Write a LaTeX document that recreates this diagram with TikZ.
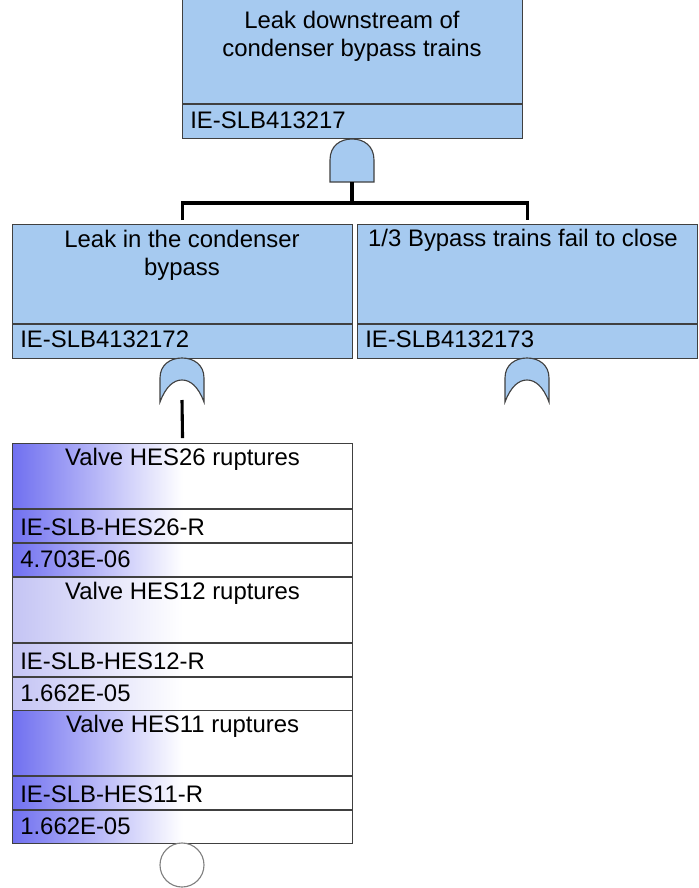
\documentclass[tikz,border=0pt]{standalone}
\usepackage{fontspec}
\setmainfont{Liberation Sans}
\usetikzlibrary{calc,positioning}

\definecolor{evblue}{RGB}{166,202,240}
\definecolor{evline}{RGB}{64,64,64}
\definecolor{basedeep}{RGB}{112,112,240}
\definecolor{basepale}{RGB}{196,196,244}

\tikzset{
  evbox/.style={draw=evline,line width=0.8pt,fill=evblue,anchor=north west,minimum width=8.5cm,inner sep=0pt},
  basebox/.style={draw=evline,line width=0.8pt,anchor=north west,minimum width=8.5cm,minimum height=3.333cm,inner sep=0pt},
  conn/.style={line width=2.2pt},
  lbl/.style={inner sep=0pt,font=\fontsize{17pt}{20pt}\selectfont},
  andgate/.pic={
    \draw[evline,line width=0.8pt,fill=evblue] (-22,43) -- (-22,21) .. controls (-22,7) and (-12,0) .. (0,0)
      .. controls (12,0) and (22,7) .. (22,21) -- (22,43) -- cycle;
    \coordinate (-out) at (0,43);
  },
  orgate/.pic={
    \draw[evline,line width=0.8pt,fill=evblue] (-22,44) -- (-22,20) .. controls (-22,7) and (-12,0) .. (0,0)
      .. controls (12,0) and (22,7) .. (22,20) -- (22,44) .. controls (16,28) and (8,22) .. (0,22)
      .. controls (-8,22) and (-16,28) .. (-22,44) -- cycle;
    \coordinate (-out) at (0,42);
  }
}

\begin{document}
\begin{tikzpicture}[x=0.025cm,y=-0.025cm]
  \useasboundingbox (0,0) rectangle (698,888);

  %top event
  \node[evbox,minimum height=3.525cm] (leakds) at (182,-3) {};
  \draw[evline,line width=0.8pt] ($(leakds.north west)+(0,107)$) -- ($(leakds.north east)+(0,107)$);
  \node[lbl,align=center] (leakds-t) at (352,36) {Leak downstream of\\condenser bypass trains};
  \node[lbl,anchor=west] (leakds-id) at (190,120) {IE-SLB413217};
  \pic (g1) at (352,139) {andgate};

  %second level
  \node[evbox,minimum height=3.35cm] (leak) at (12,224) {};
  \node[evbox,minimum height=3.35cm] (bypass) at (357,224) {};
  \draw[evline,line width=0.8pt] ($(leak.north west)+(0,100)$) -- ($(leak.north east)+(0,100)$);
  \draw[evline,line width=0.8pt] ($(bypass.north west)+(0,100)$) -- ($(bypass.north east)+(0,100)$);
  \node[lbl,align=center] (leak-t) at (182,255) {Leak in the condenser\\bypass};
  \node[lbl] (bypass-t) at (523,240) {1/3 Bypass trains fail to close};
  \node[lbl,anchor=west] (leak-id) at (20,339) {IE-SLB4132172};
  \node[lbl,anchor=west] (bypass-id) at (365,339) {IE-SLB4132173};
  \pic (g2) at (182,358) {orgate};
  \pic (g3) at (527,358) {orgate};

  \coordinate (bar) at (352,203);
  \draw[conn] (g1-out) -- (bar);
  \draw[conn,shorten <=0.1cm,shorten >=0.1cm] (leak.north) |- (bar) -| (bypass.north);

  %basic events
  \foreach \y/\n/\val/\col in {443/26/4.703E-06/basedeep,577/12/1.662E-05/basepale,710/11/1.662E-05/basedeep}{
    \node[basebox,left color=\col,right color=white,middle color=white] (hes\n) at (12,\y) {};
    \draw[evline,line width=0.8pt] ($(hes\n.north west)+(0,66)$) -- ($(hes\n.north east)+(0,66)$);
    \draw[evline,line width=0.8pt] ($(hes\n.north west)+(0,100)$) -- ($(hes\n.north east)+(0,100)$);
    \node[lbl] (hes\n-t) at ($(hes\n.north)+(0,16)$) {Valve HES\n\ ruptures};
    \node[lbl,anchor=west] (hes\n-id) at ($(hes\n.north west)+(8,84)$) {IE-SLB-HES\n-R};
    \node[lbl,anchor=west] (hes\n-p) at ($(hes\n.north west)+(8,116)$) {\val};
  }
  \draw[conn,shorten >=0.12cm] (g2-out) -- (hes26.north);
  \node[draw=gray,line width=0.8pt,fill=white,circle,minimum size=1.1cm,inner sep=0pt] (hes11-c) at (182,865) {};
\end{tikzpicture}
\end{document}
